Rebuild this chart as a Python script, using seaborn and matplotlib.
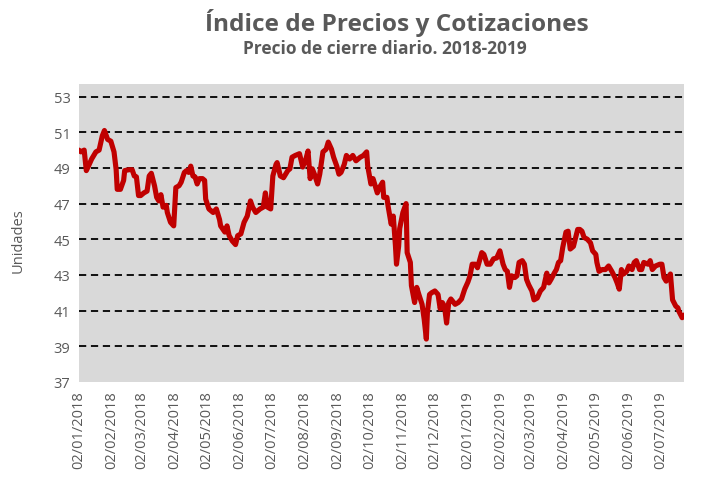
import matplotlib
matplotlib.use("Agg")
import matplotlib.pyplot as plt
import matplotlib.dates as mdates
import seaborn as sns
import pandas as pd

# Precio de cierre (lectura aproximada del gráfico)
fechas = [
    "2018-01-02", "2018-01-04", "2018-01-07", "2018-01-09", "2018-01-11", "2018-01-14",
    "2018-01-18", "2018-01-21", "2018-01-24", "2018-01-26", "2018-01-29", "2018-02-01",
    "2018-02-04", "2018-02-06", "2018-02-07", "2018-02-10", "2018-02-13", "2018-02-14",
    "2018-02-18", "2018-02-21", "2018-02-23", "2018-02-25", "2018-02-27", "2018-03-01",
    "2018-03-04", "2018-03-07", "2018-03-09", "2018-03-11", "2018-03-14", "2018-03-16",
    "2018-03-18", "2018-03-20", "2018-03-22", "2018-03-25", "2018-03-26", "2018-03-29",
    "2018-04-01", "2018-04-03", "2018-04-06", "2018-04-08", "2018-04-11", "2018-04-13",
    "2018-04-15", "2018-04-17", "2018-04-19", "2018-04-21", "2018-04-23", "2018-04-25",
    "2018-04-28", "2018-04-30", "2018-05-01", "2018-05-04", "2018-05-08", "2018-05-11",
    "2018-05-14", "2018-05-15", "2018-05-19", "2018-05-21", "2018-05-23", "2018-05-26",
    "2018-05-29", "2018-05-31", "2018-06-03", "2018-06-06", "2018-06-09", "2018-06-12",
    "2018-06-14", "2018-06-17", "2018-06-21", "2018-06-24", "2018-06-26", "2018-06-28",
    "2018-07-01", "2018-07-03", "2018-07-06", "2018-07-07", "2018-07-10", "2018-07-13",
    "2018-07-17", "2018-07-19", "2018-07-21", "2018-07-24", "2018-07-28", "2018-07-31",
    "2018-08-03", "2018-08-05", "2018-08-07", "2018-08-09", "2018-08-11", "2018-08-14",
    "2018-08-16", "2018-08-19", "2018-08-22", "2018-08-24", "2018-08-27", "2018-08-29",
    "2018-09-01", "2018-09-03", "2018-09-05", "2018-09-08", "2018-09-10", "2018-09-13",
    "2018-09-16", "2018-09-19", "2018-09-23", "2018-09-26", "2018-09-29", "2018-09-30",
    "2018-10-03", "2018-10-05", "2018-10-09", "2018-10-11", "2018-10-14", "2018-10-15",
    "2018-10-18", "2018-10-19", "2018-10-22", "2018-10-24", "2018-10-26", "2018-10-27",
    "2018-10-29", "2018-10-30", "2018-11-02", "2018-11-05", "2018-11-06", "2018-11-09",
    "2018-11-10", "2018-11-13", "2018-11-15", "2018-11-17", "2018-11-20", "2018-11-22",
    "2018-11-24", "2018-11-25", "2018-11-27", "2018-11-29", "2018-12-02", "2018-12-05",
    "2018-12-07", "2018-12-09", "2018-12-11", "2018-12-13", "2018-12-15", "2018-12-17",
    "2018-12-21", "2018-12-24", "2018-12-27", "2018-12-30", "2019-01-02", "2019-01-04",
    "2019-01-06", "2019-01-09", "2019-01-11", "2019-01-15", "2019-01-17", "2019-01-20",
    "2019-01-23", "2019-01-26", "2019-01-29", "2019-02-01", "2019-02-04", "2019-02-06",
    "2019-02-08", "2019-02-10", "2019-02-12", "2019-02-15", "2019-02-17", "2019-02-19",
    "2019-02-22", "2019-02-24", "2019-02-26", "2019-02-28", "2019-03-03", "2019-03-05",
    "2019-03-08", "2019-03-11", "2019-03-14", "2019-03-17", "2019-03-19", "2019-03-21",
    "2019-03-24", "2019-03-26", "2019-03-28", "2019-03-30", "2019-04-01", "2019-04-04",
    "2019-04-06", "2019-04-08", "2019-04-11", "2019-04-15", "2019-04-17", "2019-04-19",
    "2019-04-21", "2019-04-24", "2019-04-27", "2019-04-29", "2019-05-02", "2019-05-03",
    "2019-05-05", "2019-05-08", "2019-05-11", "2019-05-14", "2019-05-17", "2019-05-20",
    "2019-05-22", "2019-05-24", "2019-05-26", "2019-05-28", "2019-05-31", "2019-06-02",
    "2019-06-05", "2019-06-07", "2019-06-09", "2019-06-12", "2019-06-14", "2019-06-16",
    "2019-06-20", "2019-06-22", "2019-06-24", "2019-06-27", "2019-07-01", "2019-07-03",
    "2019-07-05", "2019-07-07", "2019-07-10", "2019-07-11", "2019-07-13", "2019-07-16",
    "2019-07-18", "2019-07-19", "2019-07-22", "2019-07-24",
]
precios = [
    50.0, 49.9, 50.0, 48.85, 49.1, 49.5,
    49.9, 50.0, 50.8, 51.1, 50.6, 50.5,
    49.9, 48.9, 47.8, 47.8, 48.3, 48.85,
    48.9, 48.9, 48.55, 48.5, 47.45, 47.45,
    47.6, 47.7, 48.55, 48.7, 48.0, 47.35,
    47.15, 47.5, 46.8, 46.9, 46.5, 45.95,
    45.75, 47.9, 48.0, 48.2, 48.75, 48.85,
    48.75, 49.1, 48.55, 48.5, 48.1, 48.4,
    48.4, 48.3, 47.25, 46.7, 46.5, 46.7,
    46.1, 45.75, 45.4, 45.75, 45.2, 44.9,
    44.7, 45.2, 45.3, 45.95, 46.3, 47.15,
    46.8, 46.5, 46.7, 46.8, 47.6, 46.8,
    46.7, 48.55, 49.2, 49.3, 48.55, 48.45,
    48.85, 48.95, 49.6, 49.7, 49.8, 49.05,
    49.5, 49.95, 48.4, 48.95, 48.65, 48.1,
    48.65, 49.9, 50.05, 50.45, 50.05, 49.6,
    49.1, 48.65, 48.75, 49.2, 49.7, 49.5,
    49.7, 49.4, 49.6, 49.7, 49.9, 49.1,
    48.1, 48.4, 47.6, 47.9, 48.2, 47.35,
    47.35, 46.9, 45.85, 46.3, 44.65, 43.6,
    44.6, 45.6, 46.5, 47.0, 44.25, 43.7,
    42.4, 41.45, 42.3, 41.9, 41.35, 40.5,
    39.4, 40.9, 41.9, 42.0, 42.1, 41.9,
    41.1, 41.45, 41.25, 40.3, 41.45, 41.65,
    41.35, 41.45, 41.65, 42.2, 42.6, 42.95,
    43.6, 43.6, 43.4, 44.25, 44.15, 43.6,
    43.6, 43.9, 43.95, 44.35, 43.6, 43.3,
    43.2, 42.3, 42.95, 42.85, 42.95, 43.7,
    43.8, 43.6, 42.75, 42.45, 42.1, 41.6,
    41.7, 42.1, 42.3, 43.1, 42.55, 42.75,
    43.1, 43.3, 43.7, 43.8, 44.55, 45.4,
    45.45, 44.45, 44.6, 45.55, 45.55, 45.45,
    45.1, 45.0, 44.8, 44.35, 44.15, 43.7,
    43.2, 43.3, 43.3, 43.5, 43.2, 42.85,
    42.55, 42.2, 43.3, 43.05, 43.2, 43.5,
    43.3, 43.7, 43.8, 43.3, 43.3, 43.7,
    43.6, 43.8, 43.3, 43.5, 43.6, 43.6,
    42.85, 42.65, 42.95, 43.05, 41.6, 41.25,
    41.15, 40.95, 40.6, 40.75,
]
y_ticks = list(range(37, 54, 2))
x_ticks = pd.date_range("2018-01-02", "2019-07-02", freq=pd.DateOffset(months=1))

df = pd.DataFrame({"fecha": pd.to_datetime(fechas), "precio": precios})

sns.set_style("white")
plt.rcParams["font.family"] = ["Open Sans", "DejaVu Sans"]
gris = "#595959"

fig = plt.figure(figsize=(7.04, 4.81), dpi=100)
ax = fig.add_axes([0.112, 0.204, 0.86, 0.619])
ax.set_facecolor("#D9D9D9")

# lineas de referencia horizontales
for y in y_ticks[1:]:
    ax.axhline(y, color="black", linestyle=(0, (4, 2.6)), linewidth=1.3, zorder=1)

sns.lineplot(data=df, x="fecha", y="precio", color="#C00000", linewidth=3.7,
             ax=ax, zorder=3)

ax.set_ylim(37, 53.7)
ax.set_yticks(y_ticks)
ax.set_xlim(df["fecha"].min(), df["fecha"].max())
ax.set_xticks(x_ticks)
ax.xaxis.set_major_formatter(mdates.DateFormatter("%d/%m/%Y"))
plt.setp(ax.get_xticklabels(), rotation=90)
ax.tick_params(length=0, labelsize=10.5, labelcolor=gris, pad=6)
ax.set_xlabel("")
ax.set_ylabel("")
for s in ax.spines.values():
    s.set_visible(False)

fig.text(0.026, 0.5, "Unidades", rotation=90, ha="center", va="center",
         fontsize=10.5, color=gris)
fig.text(0.564, 0.953, "Índice de Precios y Cotizaciones", ha="center", va="center",
         fontsize=17.6, fontweight="bold", color=gris)
fig.text(0.547, 0.898, "Precio de cierre diario. 2018-2019", ha="center", va="center",
         fontsize=12.5, fontweight="bold", color=gris)

fig.savefig("out.png", dpi=100)
